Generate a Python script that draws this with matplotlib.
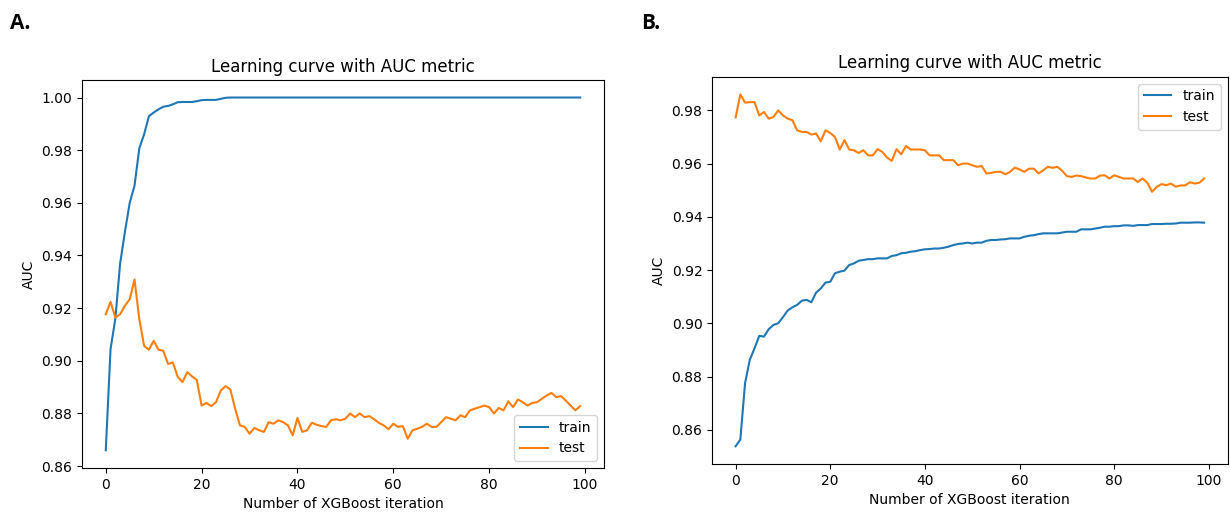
import numpy as np
import matplotlib
matplotlib.use("Agg")
import matplotlib.pyplot as plt

# panel A: AUC per iteration
a_train = [0.866, 0.9045, 0.916, 0.937, 0.949, 0.960, 0.9665, 0.9807, 0.986, 0.9929,
           0.9943, 0.9955, 0.9965, 0.9968, 0.9974, 0.9982, 0.9983, 0.9983, 0.9983, 0.9986,
           0.999, 0.9991, 0.9991, 0.9991, 0.9995, 0.9999] + [1.0] * 74
a_test = [0.9177, 0.9224, 0.9164, 0.9177, 0.9209, 0.9234, 0.9309, 0.9158, 0.9057, 0.9042,
          0.9076, 0.9042, 0.9038, 0.8988, 0.8994, 0.894, 0.8919, 0.8957, 0.8941, 0.8927,
          0.883, 0.884, 0.8828, 0.8843, 0.8887, 0.8904, 0.8891, 0.8818, 0.8755, 0.8749,
          0.8723, 0.8745, 0.8736, 0.873, 0.8767, 0.8761, 0.8774, 0.8767, 0.8755, 0.8717,
          0.8783, 0.873, 0.8736, 0.8765, 0.8757, 0.8752, 0.8749, 0.8774, 0.8778, 0.8774,
          0.878, 0.880, 0.8786, 0.880, 0.8786, 0.879, 0.8778, 0.8764, 0.8755, 0.874,
          0.8761, 0.8749, 0.8752, 0.8704, 0.8736, 0.8742, 0.8749, 0.8761, 0.8749, 0.8749,
          0.8767, 0.8786, 0.878, 0.8774, 0.8793, 0.8786, 0.8812, 0.8818, 0.8824, 0.883,
          0.8824, 0.880, 0.8821, 0.8812, 0.8846, 0.8824, 0.8853, 0.8843, 0.883, 0.884,
          0.8843, 0.8856, 0.8868, 0.8878, 0.8862, 0.8866, 0.8849, 0.883, 0.8812, 0.8828]

# panel B
b_train = [0.8538, 0.8563, 0.8775, 0.8863, 0.8906, 0.8953, 0.895, 0.8978, 0.8994, 0.900,
           0.9023, 0.9048, 0.906, 0.9069, 0.9085, 0.9088, 0.9079, 0.9115, 0.9131, 0.9153,
           0.9156, 0.9188, 0.9194, 0.9198, 0.9219, 0.9225, 0.9235, 0.9238, 0.9241, 0.9241,
           0.9244, 0.9244, 0.9244, 0.9253, 0.9256, 0.9263, 0.9265, 0.9269, 0.9271, 0.9275,
           0.9278, 0.9279, 0.9281, 0.9281, 0.9284, 0.9288, 0.9294, 0.9298, 0.930, 0.9303,
           0.930, 0.9303, 0.9303, 0.931, 0.9313, 0.9313, 0.9315, 0.9316, 0.9319, 0.9319,
           0.9319, 0.9325, 0.9329, 0.9331, 0.9335, 0.9338, 0.9338, 0.9338, 0.9338, 0.9341,
           0.9344, 0.9344, 0.9344, 0.9353, 0.9353, 0.9353, 0.9356, 0.9359, 0.9363, 0.9363,
           0.9365, 0.9365, 0.9368, 0.9368, 0.9366, 0.9369, 0.9369, 0.9369, 0.9373, 0.9373,
           0.9373, 0.9374, 0.9374, 0.9375, 0.9378, 0.9378, 0.9378, 0.9379, 0.9379, 0.9378]
b_test = [0.9773, 0.986, 0.9829, 0.9831, 0.9831, 0.9781, 0.9794, 0.9769, 0.9775, 0.980,
          0.9781, 0.9769, 0.9763, 0.9725, 0.9719, 0.9719, 0.9709, 0.9713, 0.9684, 0.9725,
          0.9715, 0.970, 0.9653, 0.9688, 0.9653, 0.965, 0.964, 0.965, 0.9631, 0.9631,
          0.9654, 0.9644, 0.9623, 0.961, 0.9654, 0.9635, 0.9666, 0.9653, 0.9653, 0.9653,
          0.965, 0.9631, 0.9631, 0.9631, 0.9613, 0.9613, 0.9613, 0.9594, 0.960, 0.960,
          0.9594, 0.9588, 0.9591, 0.9563, 0.9565, 0.9569, 0.9569, 0.956, 0.9569, 0.9585,
          0.9578, 0.9569, 0.9581, 0.9581, 0.9563, 0.9575, 0.9588, 0.9584, 0.9588, 0.9573,
          0.9553, 0.955, 0.9555, 0.9553, 0.9548, 0.9544, 0.9544, 0.9555, 0.9556, 0.9544,
          0.9556, 0.955, 0.9544, 0.9544, 0.9544, 0.9531, 0.9544, 0.9528, 0.9494, 0.9513,
          0.9523, 0.9519, 0.9525, 0.9513, 0.9518, 0.9518, 0.953, 0.9525, 0.9528, 0.9544]

fig = plt.figure(figsize=(12.3, 5.12), dpi=100)
axA = fig.add_axes([0.0667, 0.086, 0.4243, 0.758])
axB = fig.add_axes([0.579, 0.094, 0.419, 0.756])

for ax, tr, te, loc in [(axA, a_train, a_test, "lower right"),
                        (axB, b_train, b_test, "upper right")]:
    ax.plot(np.arange(len(tr)), tr, label="train")
    ax.plot(np.arange(len(te)), te, label="test")
    ax.set_title("Learning curve with AUC metric")
    ax.set_xlabel("Number of XGBoost iteration")
    ax.set_ylabel("AUC")
    ax.set_xticks([0, 20, 40, 60, 80, 100])
    ax.legend(loc=loc)

fig.text(0.008, 0.955, "A.", fontsize=15, fontweight="bold", family="Open Sans", va="center")
fig.text(0.521, 0.955, "B.", fontsize=15, fontweight="bold", family="Open Sans", va="center")

fig.savefig("out.png", dpi=100)
